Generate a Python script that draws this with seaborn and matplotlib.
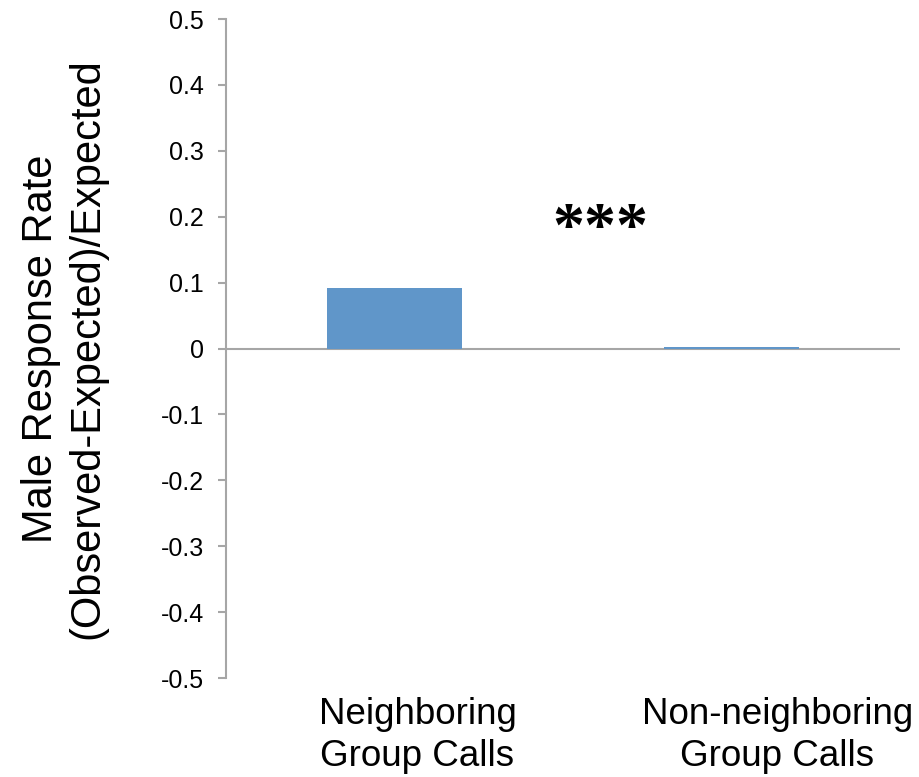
import matplotlib
matplotlib.use("Agg")
import matplotlib.pyplot as plt
import seaborn as sns
import pandas as pd

categories = ["Neighboring\nGroup Calls", "Non-neighboring\nGroup Calls"]
values = [0.092, 0.003]
y_ticks = [0.5, 0.4, 0.3, 0.2, 0.1, 0.0, -0.1, -0.2, -0.3, -0.4, -0.5]
y_tick_labels = ["0.5", "0.4", "0.3", "0.2", "0.1", "0", "-0.1", "-0.2", "-0.3", "-0.4", "-0.5"]
significance = "***"

sns.set_theme(style="white")
plt.rcParams["font.family"] = ["Liberation Sans", "DejaVu Sans"]
plt.rcParams["text.color"] = "black"
plt.rcParams["axes.labelcolor"] = "black"

df = pd.DataFrame({"group": categories, "rate": values})

fig = plt.figure(figsize=(9.2, 7.77), dpi=100)
ax = fig.add_axes([0.2457, 0.1274, 0.7323, 0.8481])

sns.barplot(data=df, x="group", y="rate", color="#6096C9", width=0.4,
            saturation=1, linewidth=0, ax=ax, zorder=3)

axis_gray = "#A6A6A6"
ax.set_ylim(-0.5, 0.5)
ax.set_xlim(-0.5, 1.5)
ax.set_yticks(y_ticks)
ax.set_yticklabels(y_tick_labels, fontsize=18, color="black")
ax.tick_params(axis="y", direction="out", length=6, width=1.5, color=axis_gray,
               pad=10, left=True)
ax.set_xticks([])
ax.set_xlabel("")

for side in ["top", "right", "bottom"]:
    ax.spines[side].set_visible(False)
ax.spines["left"].set_color(axis_gray)
ax.spines["left"].set_linewidth(1.5)
ax.axhline(0, color=axis_gray, lw=1.5, zorder=2)

# category labels sit below the plotting area
label_offsets = [23, 46]
for i, (lab, dx) in enumerate(zip(categories, label_offsets)):
    ax.annotate(lab, xy=(i, -0.5), xycoords="data", xytext=(dx, -19),
                textcoords="offset pixels", ha="center", va="top",
                fontsize=26.5, linespacing=1.27, annotation_clip=False)

ax.text(0.61, 0.155, significance, ha="center", va="baseline", fontsize=46,
        fontweight="bold", family="Liberation Serif", color="black")

ax.set_ylabel("Male Response Rate\n(Observed-Expected)/Expected", fontsize=30,
              linespacing=1.2)
ax.yaxis.set_label_coords(-0.176, 0.5)

fig.savefig("out.png", dpi=100, facecolor="white")
